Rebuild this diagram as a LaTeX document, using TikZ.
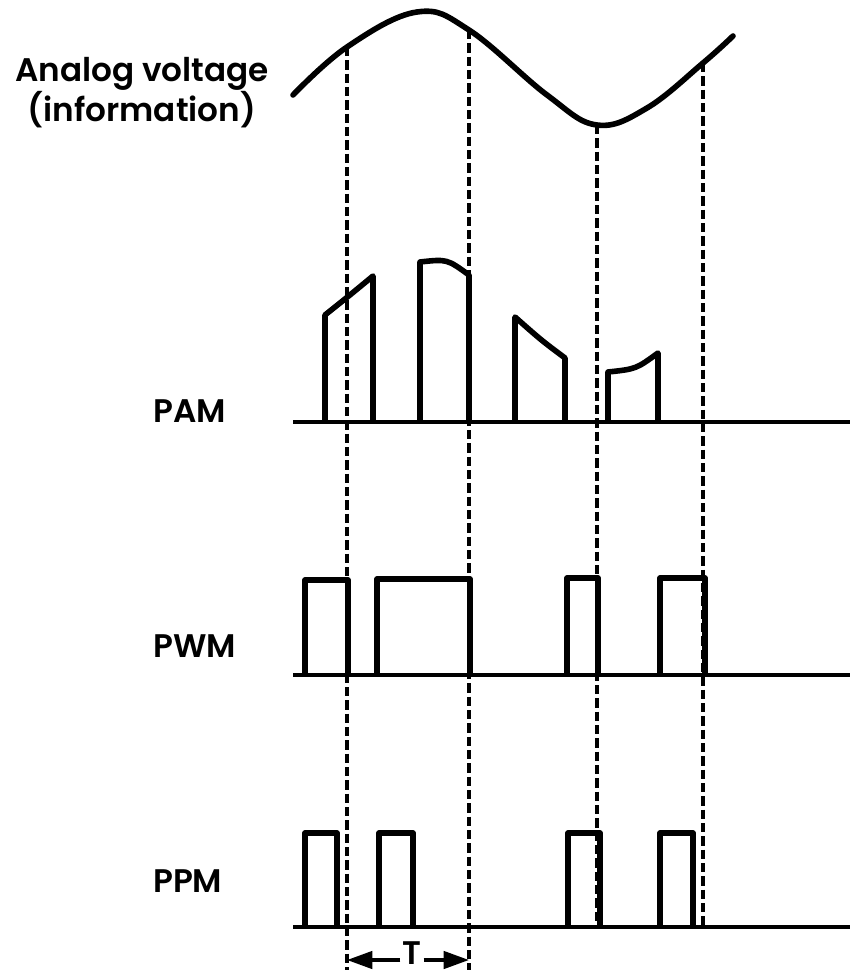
\documentclass[tikz,border=0pt]{standalone}
\usepackage{fontspec}
\setmainfont{Poppins}
\newfontfamily\lblfont{Poppins SemiBold}
\usetikzlibrary{arrows.meta}
\begin{document}
\begin{tikzpicture}[x=0.75pt,y=-0.75pt,
  wave/.style={line width=4.2pt, line join=round, line cap=round},
  pulse/.style={line width=4.2pt, line join=round},
  axis/.style={line width=3pt},
  guide/.style={line width=2.5pt, dash pattern=on 7pt off 3pt},
  tarrow/.style={line width=2.6pt, -{Triangle[length=19pt,width=13pt]}},
  lbl/.style={font=\fontsize{24.5}{25.5}\lblfont, inner sep=0pt}]
\useasboundingbox (0,0) rectangle (850,974);
% sample points on the analog wave
\coordinate (s1) at (347,47);
\coordinate (s2) at (469,30);
\coordinate (s3) at (597,125);
\coordinate (s4) at (703,63);
\coordinate (e1) at (347,970);
\coordinate (e2) at (469,970);
\coordinate (e3) at (597,927);
\coordinate (e4) at (703,927);
% guide lines
\draw[guide] (s1) -- (e1);
\draw[guide] (s2) -- (e2);
\draw[guide] (s3) -- (e3);
\draw[guide] (s4) -- (e4);
% analog wave
\draw[wave] plot[smooth, tension=0.65] coordinates {(293,95) (347,47) (417,12) (469,30) (547,95) (597,125) (647,108) (703,63) (733,36)};
% baselines
\draw[axis] (293,422) -- (850,422);
\draw[axis] (293,675) -- (850,675);
\draw[axis] (293,927) -- (850,927);
% PAM
\draw[pulse] (325,422) -- (325,315) .. controls (350,295) .. (373,276) -- (373,422);
\draw[pulse] (420,422) -- (420,262) .. controls (447,259) .. (469,275) -- (469,422);
\draw[pulse] (515,422) -- (515,317) .. controls (541,340) .. (565,358) -- (565,422);
\draw[pulse] (608,422) -- (608,372) .. controls (636,369) .. (658,353) -- (658,422);
% PWM
\draw[pulse] (305,675) -- (305,580) -- (348,580) -- (348,675);
\draw[pulse] (377,675) -- (377,579) -- (470,579) -- (470,675);
\draw[pulse] (567,675) -- (567,578) -- (598,578) -- (598,675);
\draw[pulse] (660,675) -- (660,578) -- (705,578) -- (705,675);
% PPM
\draw[pulse] (305,927) -- (305,833) -- (337,833) -- (337,927);
\draw[pulse] (379,927) -- (379,833) -- (413,833) -- (413,927);
\draw[pulse] (568,927) -- (568,833) -- (600,833) -- (600,927);
\draw[pulse] (660,927) -- (660,833) -- (693,833) -- (693,927);
% labels
\node[lbl, align=center, anchor=base] (analog) at (142,122) {Analog voltage\\(information)};
\node[lbl, anchor=base west] (pam) at (153,422) {PAM};
\node[lbl, anchor=base west] (pwm) at (153,657) {PWM};
\node[lbl, anchor=base west] (ppm) at (153,892) {PPM};
% period marker
\node[lbl, inner sep=1.5pt] (T) at (412,953) {T};
\coordinate (tl) at (347,960);
\coordinate (tr) at (469,960);
\draw[tarrow] (T.west |- tl) -- (tl);
\draw[tarrow] (T.east |- tr) -- (tr);
\end{tikzpicture}
\end{document}
